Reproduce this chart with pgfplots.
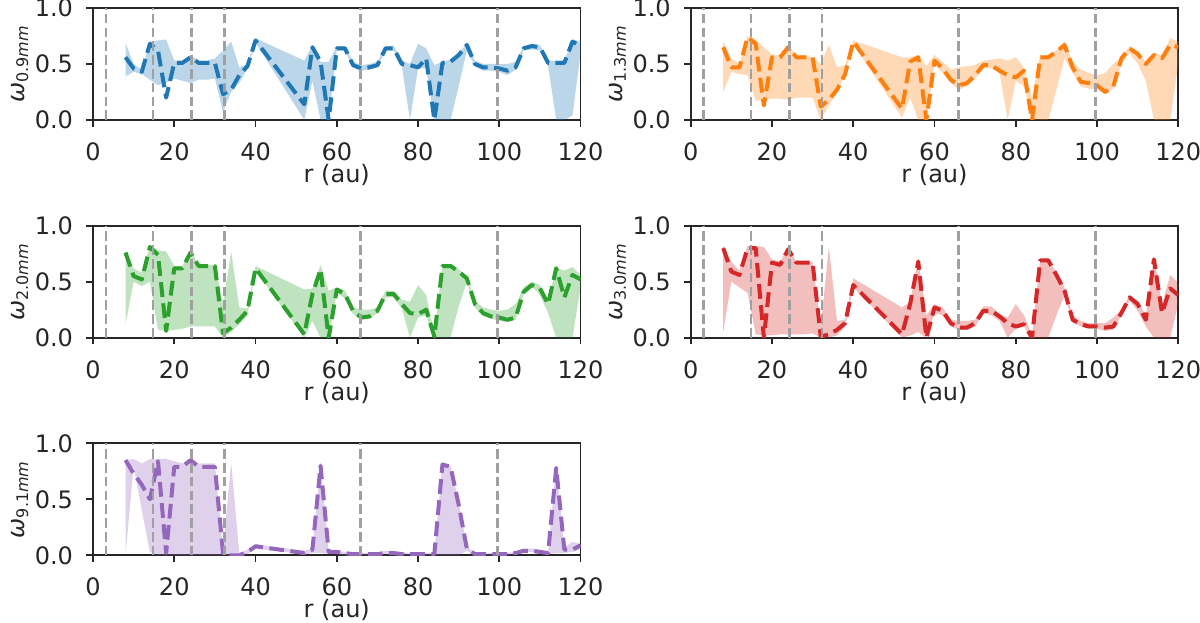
\documentclass[border=0pt]{standalone}
\usepackage{fontspec}
\setmainfont{DejaVu Sans}
\usepackage{pgfplots}
\pgfplotsset{compat=1.18}
\usepackage{pgfplotstable}
\usepgfplotslibrary{fillbetween}

\definecolor{c0}{HTML}{1F77B4}
\definecolor{c1}{HTML}{FF7F0E}
\definecolor{c2}{HTML}{2CA02C}
\definecolor{c3}{HTML}{D62728}
\definecolor{c4}{HTML}{9467BD}
\definecolor{txt}{RGB}{38,38,38}
\definecolor{vl}{RGB}{160,160,160}

\pgfplotstableread{
x y lo hi
8 0.56 0.39 0.69
10 0.46 0.43 0.50
12 0.43 0.41 0.45
14 0.68 0.36 0.70
16 0.62 0.31 0.71
18 0.20 0.33 0.72
20 0.51 0.37 0.53
22 0.51 0.35 0.53
24 0.56 0.33 0.58
26 0.51 0.36 0.53
28 0.51 0.36 0.53
30 0.51 0.37 0.55
32 0.23 0.07 0.62
34 0.27 0.25 0.70
36 0.40 0.33 0.47
38 0.48 0.46 0.50
40 0.71 0.69 0.73
52 0.14 0.00 0.53
54 0.65 0.35 0.67
56 0.52 0.00 0.52
58 0.00 0.00 0.52
60 0.64 0.62 0.66
62 0.64 0.62 0.66
64 0.49 0.47 0.52
66 0.46 0.44 0.49
68 0.47 0.45 0.50
70 0.49 0.47 0.52
72 0.64 0.62 0.66
74 0.64 0.62 0.66
76 0.50 0.48 0.53
78 0.49 0.00 0.50
80 0.47 0.46 0.68
82 0.55 0.46 0.64
84 0.00 0.00 0.49
86 0.51 0.00 0.52
88 0.52 0.00 0.54
90 0.58 0.30 0.60
92 0.67 0.62 0.68
94 0.50 0.48 0.53
96 0.47 0.44 0.50
98 0.47 0.44 0.50
100 0.46 0.43 0.50
102 0.44 0.40 0.50
104 0.47 0.45 0.52
106 0.64 0.62 0.66
108 0.66 0.63 0.68
110 0.65 0.62 0.67
112 0.51 0.48 0.53
114 0.51 0.00 0.53
116 0.51 0.00 0.53
118 0.70 0.04 0.72
120 0.66 0.60 0.70
}\tA

\pgfplotstableread{
x y lo hi
8 0.65 0.25 0.70
10 0.47 0.43 0.55
12 0.47 0.41 0.50
14 0.74 0.40 0.75
16 0.68 0.17 0.72
18 0.13 0.18 0.65
20 0.56 0.19 0.58
22 0.56 0.19 0.58
24 0.65 0.18 0.67
26 0.56 0.20 0.58
28 0.56 0.20 0.58
30 0.56 0.20 0.56
32 0.12 0.00 0.50
34 0.18 0.13 0.67
36 0.27 0.25 0.47
38 0.41 0.40 0.49
40 0.70 0.68 0.71
52 0.10 0.02 0.56
54 0.52 0.20 0.56
56 0.56 0.00 0.58
58 0.00 0.00 0.48
60 0.53 0.50 0.58
62 0.46 0.42 0.52
64 0.36 0.33 0.45
66 0.31 0.27 0.47
68 0.33 0.30 0.48
70 0.40 0.37 0.49
72 0.49 0.46 0.53
74 0.49 0.46 0.54
76 0.44 0.42 0.55
78 0.40 0.00 0.53
80 0.38 0.35 0.56
82 0.44 0.30 0.47
84 0.00 0.00 0.20
86 0.56 0.00 0.58
88 0.56 0.00 0.58
90 0.61 0.27 0.62
92 0.67 0.55 0.70
94 0.47 0.42 0.52
96 0.34 0.30 0.45
98 0.33 0.28 0.42
100 0.31 0.27 0.40
102 0.25 0.24 0.42
104 0.30 0.28 0.50
106 0.55 0.50 0.56
108 0.64 0.60 0.66
110 0.59 0.50 0.60
112 0.50 0.35 0.52
114 0.58 0.00 0.60
116 0.55 0.00 0.58
118 0.67 0.00 0.73
120 0.65 0.50 0.70
}\tB

\pgfplotstableread{
x y lo hi
8 0.76 0.12 0.78
10 0.55 0.50 0.62
12 0.52 0.46 0.58
14 0.81 0.50 0.82
16 0.74 0.07 0.78
18 0.06 0.06 0.77
20 0.62 0.07 0.64
22 0.62 0.08 0.64
24 0.76 0.10 0.78
26 0.64 0.10 0.65
28 0.64 0.10 0.65
30 0.64 0.10 0.65
32 0.04 0.00 0.30
34 0.09 0.05 0.77
36 0.16 0.12 0.27
38 0.24 0.20 0.26
40 0.62 0.60 0.64
52 0.03 0.00 0.43
54 0.39 0.15 0.44
56 0.61 0.00 0.65
58 0.00 0.00 0.42
60 0.43 0.40 0.45
62 0.39 0.35 0.42
64 0.24 0.21 0.27
66 0.18 0.16 0.25
68 0.19 0.17 0.25
70 0.24 0.22 0.27
72 0.39 0.36 0.42
74 0.39 0.36 0.42
76 0.30 0.26 0.34
78 0.22 0.00 0.32
80 0.21 0.18 0.47
82 0.25 0.20 0.38
84 0.01 0.00 0.03
86 0.64 0.00 0.66
88 0.64 0.00 0.66
90 0.59 0.28 0.61
92 0.53 0.50 0.55
94 0.30 0.27 0.33
96 0.22 0.19 0.27
98 0.19 0.17 0.25
100 0.18 0.15 0.24
102 0.16 0.14 0.25
104 0.18 0.16 0.30
106 0.41 0.39 0.45
108 0.47 0.46 0.50
110 0.44 0.38 0.47
112 0.30 0.22 0.34
114 0.62 0.00 0.62
116 0.36 0.00 0.60
118 0.56 0.00 0.63
120 0.52 0.45 0.56
}\tC

\pgfplotstableread{
x y lo hi
8 0.80 0.05 0.82
10 0.59 0.50 0.68
12 0.56 0.45 0.60
14 0.80 0.40 0.82
16 0.80 0.03 0.82
18 0.00 0.02 0.81
20 0.67 0.02 0.70
22 0.65 0.03 0.68
24 0.79 0.03 0.80
26 0.67 0.03 0.68
28 0.67 0.03 0.68
30 0.67 0.04 0.68
32 0.01 0.00 0.10
34 0.03 0.00 0.81
36 0.07 0.02 0.15
38 0.13 0.10 0.16
40 0.47 0.45 0.53
52 0.03 0.00 0.27
54 0.30 0.02 0.32
56 0.68 0.05 0.70
58 0.00 0.00 0.20
60 0.27 0.22 0.30
62 0.24 0.20 0.27
64 0.13 0.10 0.16
66 0.09 0.07 0.15
68 0.09 0.07 0.15
70 0.13 0.10 0.16
72 0.24 0.22 0.28
74 0.24 0.20 0.28
76 0.19 0.15 0.21
78 0.13 0.00 0.18
80 0.10 0.08 0.30
82 0.12 0.10 0.20
84 0.00 0.00 0.02
86 0.69 0.00 0.70
88 0.69 0.00 0.71
90 0.56 0.20 0.58
92 0.42 0.38 0.45
94 0.16 0.14 0.20
96 0.12 0.10 0.15
98 0.10 0.08 0.13
100 0.10 0.08 0.13
102 0.09 0.06 0.13
104 0.10 0.07 0.18
106 0.22 0.20 0.25
108 0.36 0.33 0.38
110 0.30 0.24 0.33
112 0.16 0.10 0.20
114 0.70 0.00 0.72
116 0.22 0.00 0.30
118 0.44 0.00 0.56
120 0.38 0.30 0.49
}\tD

\pgfplotstableread{
x y lo hi
8 0.85 0.00 0.85
10 0.73 0.80 0.86
12 0.63 0.40 0.82
14 0.50 0.03 0.86
16 0.84 0.00 0.86
18 0.02 0.00 0.86
20 0.79 0.00 0.84
22 0.79 0.00 0.82
24 0.85 0.00 0.86
26 0.79 0.00 0.82
28 0.79 0.00 0.82
30 0.79 0.00 0.82
32 0.02 0.00 0.05
34 0.00 0.00 0.83
36 0.00 0.00 0.02
38 0.03 0.01 0.05
40 0.08 0.06 0.10
52 0.02 0.01 0.04
54 0.05 0.02 0.06
56 0.80 0.02 0.83
58 0.03 0.01 0.04
60 0.03 0.01 0.04
62 0.02 0.00 0.03
64 0.01 0.00 0.02
66 0.01 0.00 0.02
68 0.01 0.00 0.02
70 0.01 0.00 0.03
72 0.02 0.01 0.04
74 0.02 0.00 0.03
76 0.01 0.00 0.03
78 0.01 0.00 0.02
80 0.01 0.00 0.02
82 0.01 0.00 0.02
84 0.01 0.00 0.02
86 0.81 0.00 0.83
88 0.79 0.00 0.80
90 0.45 0.00 0.48
92 0.06 0.04 0.08
94 0.01 0.00 0.02
96 0.01 0.00 0.02
98 0.01 0.00 0.02
100 0.01 0.00 0.02
102 0.01 0.00 0.02
104 0.02 0.01 0.03
106 0.04 0.03 0.06
108 0.04 0.03 0.06
110 0.03 0.02 0.05
112 0.02 0.01 0.03
114 0.78 0.02 0.80
116 0.05 0.02 0.07
118 0.05 0.03 0.12
120 0.09 0.05 0.10
}\tE

\pgfplotsset{
  panel/.style={
    scale only axis, width=243.8pt, height=56pt, anchor=south west,
    xmin=0, xmax=120, ymin=0, ymax=1,
    xtick={0,20,40,60,80,100,120}, ytick={0,0.5,1},
    axis line style={txt, line width=0.85pt},
    every tick/.style={txt, line width=0.85pt},
    tick align=outside, tick pos=left, major tick length=3.3pt,
    /pgf/number format/assume math mode=true,
    ticklabel style={font=\fontsize{12}{14}\selectfont, text=txt},
    yticklabel style={/pgf/number format/fixed, /pgf/number format/fixed zerofill,
      /pgf/number format/precision=1},
    xticklabel style={anchor=north, inner sep=0pt, yshift=-7.8pt},
    yticklabel style={anchor=east, inner sep=0pt, xshift=-6.5pt},
    xlabel={r (au)},
    xlabel style={at={(axis description cs:0.5,0)}, anchor=center, yshift=-27.4pt,
      font=\fontsize{12}{14}\selectfont, text=txt},
    ylabel style={at={(axis description cs:-0.15,0.5)}, anchor=center,
      font=\fontsize{12}{14}\selectfont, text=txt},
  },
  band/.style={draw=none, fill=#1, fill opacity=0.3},
  mainline/.style={#1, line width=2pt, line join=round, dash pattern=on 7.4pt off 3.2pt},
  vline/.style={vl, line width=1.3pt, dash pattern=on 4.8pt off 2.1pt},
}

\newcommand{\vlines}{%
  \addplot[vline] coordinates {(3.2,0) (3.2,1)};
  \addplot[vline] coordinates {(14.8,0) (14.8,1)};
  \addplot[vline] coordinates {(24.3,0) (24.3,1)};
  \addplot[vline] coordinates {(32.3,0) (32.3,1)};
  \addplot[vline] coordinates {(65.9,0) (65.9,1)};
  \addplot[vline] coordinates {(99.6,0) (99.6,1)};
}

\newcommand{\panelplots}[2]{%
  \addplot[draw=none, name path=U] table[x=x, y=hi]{#1};
  \addplot[draw=none, name path=L] table[x=x, y=lo]{#1};
  \addplot[band=#2] fill between[of=U and L];
  \addplot[mainline=#2] table[x=x, y=y]{#1};
  \vlines
}

\begin{document}
\begin{tikzpicture}

\begin{axis}[panel, at={(46.5pt,251pt)}, ylabel={\textit{ω}\textsubscript{0.9\textit{mm}}}]
\panelplots{\tA}{c0}
\end{axis}

\begin{axis}[panel, at={(345.35pt,251pt)}, ylabel={\textit{ω}\textsubscript{1.3\textit{mm}}}]
\panelplots{\tB}{c1}
\end{axis}

\begin{axis}[panel, at={(46.5pt,142.15pt)}, ylabel={\textit{ω}\textsubscript{2.0\textit{mm}}}]
\panelplots{\tC}{c2}
\end{axis}

\begin{axis}[panel, at={(345.35pt,142.15pt)}, ylabel={\textit{ω}\textsubscript{3.0\textit{mm}}}]
\panelplots{\tD}{c3}
\end{axis}

\begin{axis}[panel, at={(46.5pt,33.35pt)}, ylabel={\textit{ω}\textsubscript{9.1\textit{mm}}}]
\panelplots{\tE}{c4}
\end{axis}

\pgfresetboundingbox
\path (0,0) rectangle (600pt,311pt);
\end{tikzpicture}
\end{document}
